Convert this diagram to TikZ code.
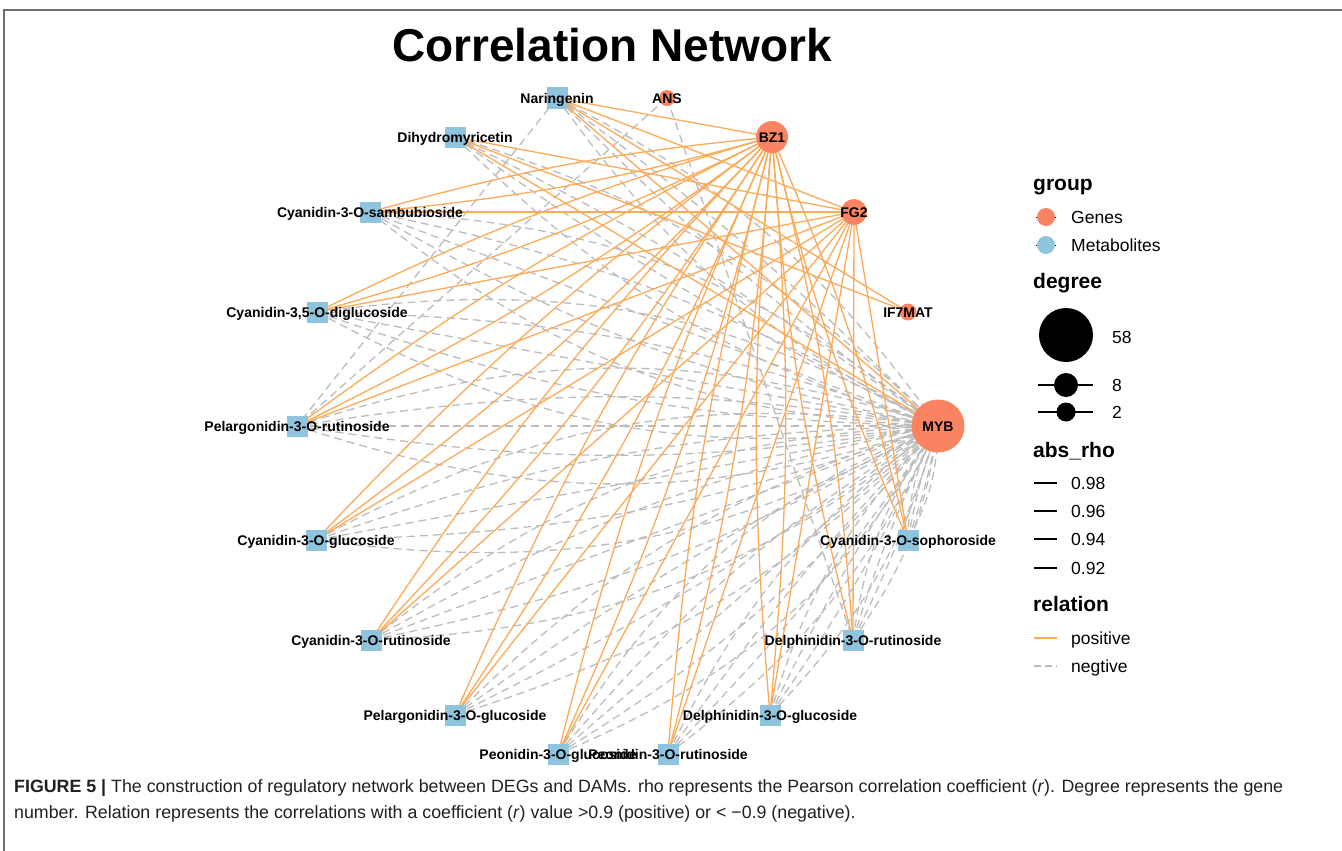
\documentclass[tikz,border=0pt]{standalone}
\usepackage{fontspec}
\setmainfont{Liberation Sans}
\definecolor{posc}{RGB}{251,170,88}
\definecolor{negc}{RGB}{188,188,188}
\definecolor{genec}{RGB}{250,132,98}
\definecolor{metc}{RGB}{142,196,222}
\definecolor{capc}{RGB}{35,31,32}
\definecolor{framec}{RGB}{110,110,110}
\pgfdeclarelayer{edges}
\pgfdeclarelayer{labels}
\pgfsetlayers{edges,main,labels}
\begin{document}
\begin{tikzpicture}[x=1pt,y=-1pt,
  genenode/.style={circle,fill=genec,inner sep=0pt,minimum size=#1},
  metnode/.style={rectangle,fill=metc,inner sep=0pt,minimum size=21pt},
  lbl/.style={font=\bfseries\fontsize{14}{16}\selectfont,inner sep=0pt,anchor=base,yshift=-5pt},
  posedge/.style={draw=posc,line width=1.3pt},
  negedge/.style={draw=negc,line width=1.3pt,dash pattern=on 8pt off 5pt},
  legtitle/.style={font=\bfseries\fontsize{21}{24}\selectfont,anchor=base west,inner sep=0pt},
  legtext/.style={font=\fontsize{17.5}{20}\selectfont,anchor=base west,inner sep=0pt},
  rholine/.style={draw=black,line width=1.4pt},
  captext/.style={anchor=base west,inner sep=0pt,font=\fontsize{17.8}{20}\selectfont,text=capc},
]
\useasboundingbox (0,0) rectangle (1342,851);
% frame
\coordinate (fA) at (4,851);
\coordinate (fB) at (4,10);
\coordinate (fC) at (1342,10);
\draw[framec,line width=1.5pt] (fA) -- (fB) -- (fC);

% title
\node[font=\bfseries\fontsize{46}{50}\selectfont,anchor=base,inner sep=0pt] (title) at (612,62) {Correlation Network};

% metabolite nodes
\node[metnode] (nar) at (557,98) {};
\node[metnode] (dih) at (455,137) {};
\node[metnode] (sam) at (370,212) {};
\node[metnode] (dig) at (317,312) {};
\node[metnode] (pru) at (297,426) {};
\node[metnode] (cgl) at (316,540) {};
\node[metnode] (cru) at (371,640) {};
\node[metnode] (pgl) at (455,715) {};
\node[metnode] (peg) at (558,754) {};
\node[metnode] (per) at (668,754) {};
\node[metnode] (dgl) at (770,715) {};
\node[metnode] (dru) at (853,640) {};
\node[metnode] (cso) at (908,540) {};
% gene nodes
\node[genenode=16pt] (ans) at (667,98) {};
\node[genenode=32pt] (bz1) at (772,137) {};
\node[genenode=26pt] (fg2) at (854,212) {};
\node[genenode=17pt] (if7) at (908,312) {};
\node[genenode=53pt] (myb) at (938,426) {};

\begin{pgfonlayer}{edges}
% negative fan to MYB
\foreach \m/\n in {nar/4,dih/4,sam/5,dig/5,pru/5,cgl/5,cru/5,pgl/4,peg/5,per/4,dgl/4,dru/4,cso/4}{
  \foreach \k in {1,...,\n}{
    \pgfmathsetmacro{\bb}{(\k-(\n+1)/2)*9}
    \draw[negedge] (\m.center) to[bend left=\bb] (myb.center);
  }
}
\draw[negedge] (ans.center) -- (pru.center);
\draw[negedge] (ans.center) -- (dru.center);
\draw[negedge] (nar.center) -- (pru.center);
% positive edges
\foreach \m in {sam,dig,pru,cgl,cru,pgl,peg,per,dgl,dru,cso}{
  \draw[posedge] (\m.center) to[bend left=5] (bz1.center);
  \draw[posedge] (\m.center) to[bend right=5] (bz1.center);
}
\foreach \m in {nar,dih,sam,dig,pru,cgl,cru,pgl,peg,per,dgl,dru,cso}{
  \draw[posedge] (\m.center) -- (fg2.center);
}
\draw[posedge] (nar.center) -- (bz1.center);
\draw[posedge] (nar.center) -- (if7.center);
\draw[posedge] (dih.center) -- (if7.center);
\draw[posedge] (nar.center) -- (myb.center);
\draw[posedge] (dih.center) -- (myb.center);
\end{pgfonlayer}

\begin{pgfonlayer}{labels}
\node[lbl] (lnar) at (nar) {Naringenin};
\node[lbl] (ldih) at (dih) {Dihydromyricetin};
\node[lbl] (lsam) at (sam) {Cyanidin-3-O-sambubioside};
\node[lbl] (ldig) at (dig) {Cyanidin-3,5-O-diglucoside};
\node[lbl] (lpru) at (pru) {Pelargonidin-3-O-rutinoside};
\node[lbl] (lcgl) at (cgl) {Cyanidin-3-O-glucoside};
\node[lbl] (lcru) at (cru) {Cyanidin-3-O-rutinoside};
\node[lbl] (lpgl) at (pgl) {Pelargonidin-3-O-glucoside};
\node[lbl] (lpeg) at (peg) {Peonidin-3-O-glucoside};
\node[lbl] (lper) at (per) {Peonidin-3-O-rutinoside};
\node[lbl] (ldgl) at (dgl) {Delphinidin-3-O-glucoside};
\node[lbl] (ldru) at (dru) {Delphinidin-3-O-rutinoside};
\node[lbl] (lcso) at (cso) {Cyanidin-3-O-sophoroside};
\node[lbl] (lans) at (ans) {ANS};
\node[lbl] (lbz1) at (bz1) {BZ1};
\node[lbl] (lfg2) at (fg2) {FG2};
\node[lbl] (lif7) at (if7) {IF7MAT};
\node[lbl] (lmyb) at (myb) {MYB};
\end{pgfonlayer}

% legend: group
\node[legtitle] (tgroup) at (1033,190) {group};
\coordinate (g1a) at (1036,217); \coordinate (g1b) at (1056,217);
\draw[black,line width=0.8pt] (g1a) -- (g1b);
\node[circle,fill=genec,inner sep=0pt,minimum size=18pt] (kgene) at (1046,217) {};
\node[legtext] (tgene) at (1071,223) {Genes};
\coordinate (g2a) at (1036,245); \coordinate (g2b) at (1056,245);
\draw[black,line width=0.8pt] (g2a) -- (g2b);
\node[circle,fill=metc,inner sep=0pt,minimum size=18pt] (kmet) at (1046,245) {};
\node[legtext] (tmet) at (1071,251) {Metabolites};

% legend: degree
\node[legtitle] (tdeg) at (1033,288) {degree};
\node[circle,fill=black,inner sep=0pt,minimum size=54pt] (kd58) at (1066,335) {};
\node[legtext] (td58) at (1112,343) {58};
\coordinate (d8a) at (1038,385); \coordinate (d8b) at (1093,385);
\draw[black,line width=1.4pt] (d8a) -- (d8b);
\node[circle,fill=black,inner sep=0pt,minimum size=24pt] (kd8) at (1066,385) {};
\node[legtext] (td8) at (1112,391) {8};
\coordinate (d2a) at (1038,412); \coordinate (d2b) at (1093,412);
\draw[black,line width=1.4pt] (d2a) -- (d2b);
\node[circle,fill=black,inner sep=0pt,minimum size=19pt] (kd2) at (1066,412) {};
\node[legtext] (td2) at (1112,418) {2};

% legend: abs_rho
\node[legtitle] (trho) at (1033,457) {abs\_rho};
\foreach \yy/\vv/\nm in {483/0.98/a,511/0.96/b,539/0.94/c,568/0.92/d}{
  \coordinate (r\nm a) at (1034,\yy);
  \coordinate (r\nm b) at (1057,\yy);
  \draw[rholine] (r\nm a) -- (r\nm b);
  \node[legtext] (tr\nm) at (1071,\yy+6) {\vv};
}

% legend: relation
\node[legtitle] (trel) at (1033,611) {relation};
\coordinate (pa) at (1034,638); \coordinate (pb) at (1057,638);
\draw[posedge] (pa) -- (pb);
\node[legtext] (tpos) at (1071,644) {positive};
\coordinate (na) at (1034,666); \coordinate (nb) at (1057,666);
\draw[draw=negc,line width=1.4pt,dash pattern=on 7pt off 4pt] (na) -- (nb);
\node[legtext] (tneg) at (1071,672) {negtive};

% caption
\node[captext] (cap1) at (14,792)
 {\textbf{FIGURE 5} \textbf{|} The construction of regulatory network between DEGs and DAMs. rho represents the Pearson correlation coefficient (\textit{r}). Degree represents the gene};
\node[captext] (cap2) at (14,818)
 {number. Relation represents the correlations with a coefficient (\textit{r}) value >0.9 (positive) or < −0.9 (negative).};
\end{tikzpicture}
\end{document}
